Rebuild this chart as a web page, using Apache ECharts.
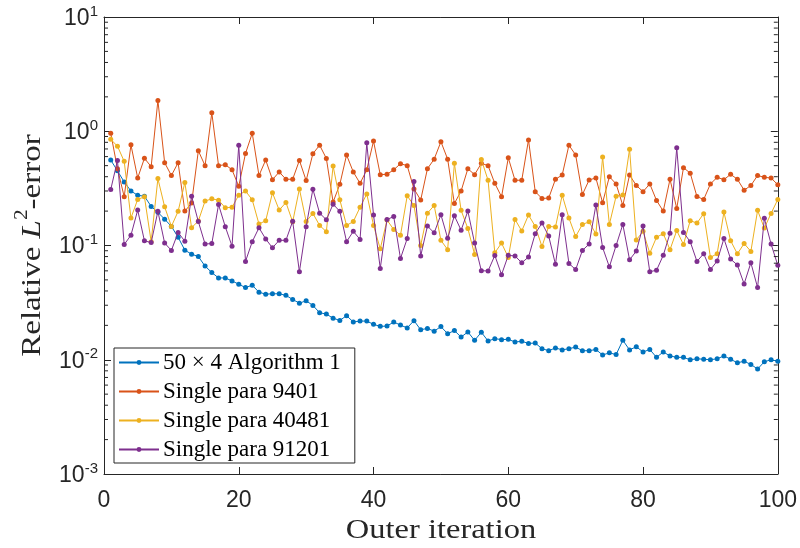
<!DOCTYPE html>
<html>
<head>
<meta charset="utf-8">
<script src="https://cdn.jsdelivr.net/npm/echarts@6/dist/echarts.min.js"></script>
<style>html,body{margin:0;padding:0;background:#fff}#c{width:800px;height:548px}</style>
</head>
<body>
<div id="c"></div>
<script>
// ---- data ----
const seriesNames = ['50 \u00d7 4 Algorithm 1', 'Single para 9401', 'Single para 40481', 'Single para 91201'];
const algo1 = [0.56,0.45,0.36,0.30,0.275,0.27,0.22,0.195,0.17,0.147,0.118,0.091,0.084,0.080,0.066,0.058,0.052,0.052,0.049,0.0458,
0.0428,0.0449,0.039,0.0375,0.0378,0.0378,0.0366,0.0337,0.0313,0.0328,0.0299,0.0258,0.0251,0.0231,0.0221,0.0243,0.0214,0.0218,0.0218,0.0204,
0.0196,0.0197,0.0214,0.0201,0.019,0.022,0.0183,0.0188,0.0178,0.0195,0.0169,0.018,0.0158,0.0175,0.0148,0.0174,0.0146,0.0153,0.015,0.0151,
0.0143,0.0145,0.0139,0.014,0.0125,0.012,0.0127,0.0122,0.0125,0.0129,0.012,0.012,0.0123,0.011,0.0115,0.0111,0.0148,0.0122,0.013,0.0117,
0.0123,0.0105,0.0117,0.0108,0.0105,0.0105,0.0100,0.0102,0.0101,0.0100,0.0102,0.0108,0.0101,0.0094,0.0097,0.0091,0.0083,0.0096,0.0100,0.0097];
const para9401 = [0.96,0.47,0.267,0.76,0.39,0.58,0.49,1.86,0.53,0.41,0.53,0.20,0.235,0.675,0.50,1.45,0.50,0.51,0.46,0.33,
0.64,0.96,0.41,0.56,0.377,0.44,0.38,0.38,0.556,0.37,0.636,0.755,0.578,0.24,0.343,0.62,0.44,0.35,0.46,0.82,
0.417,0.42,0.46,0.52,0.50,0.313,0.25,0.47,0.57,0.81,0.57,0.233,0.30,0.47,0.417,0.524,0.50,0.35,0.267,0.585,
0.372,0.373,0.84,0.296,0.258,0.26,0.38,0.414,0.755,0.62,0.279,0.375,0.39,0.237,0.40,0.346,0.224,0.414,0.335,0.296,
0.346,0.248,0.20,0.38,0.211,0.48,0.43,0.268,0.253,0.346,0.395,0.377,0.42,0.38,0.305,0.335,0.41,0.395,0.39,0.34];
const para40481 = [0.85,0.74,0.545,0.174,0.253,0.267,0.108,0.385,0.218,0.147,0.199,0.356,0.143,0.164,0.245,0.256,0.249,0.214,0.216,0.276,
0.30,0.251,0.154,0.165,0.289,0.204,0.238,0.161,0.313,0.162,0.191,0.15,0.132,0.496,0.251,0.15,0.162,0.216,0.283,0.15,
0.0935,0.167,0.138,0.123,0.272,0.224,0.10,0.192,0.224,0.111,0.092,0.524,0.203,0.141,0.0836,0.567,0.372,0.0863,0.105,0.0787,
0.169,0.134,0.185,0.147,0.098,0.147,0.145,0.276,0.174,0.12,0.153,0.161,0.126,0.594,0.153,0.27,0.277,0.697,0.112,0.133,
0.0857,0.118,0.127,0.092,0.135,0.102,0.165,0.157,0.19,0.0787,0.0848,0.196,0.11,0.0845,0.104,0.0888,0.203,0.142,0.191,0.253];
const para91201 = [0.309,0.556,0.102,0.123,0.204,0.11,0.106,0.199,0.105,0.0906,0.13,0.109,0.27,0.162,0.103,0.104,0.228,0.146,0.0987,0.755,
0.0726,0.108,0.143,0.114,0.0955,0.111,0.111,0.163,0.059,0.146,0.311,0.192,0.168,0.23,0.199,0.108,0.133,0.113,0.792,0.185,
0.063,0.169,0.179,0.077,0.115,0.364,0.081,0.148,0.129,0.186,0.116,0.182,0.136,0.20,0.105,0.0602,0.0598,0.0818,0.0556,0.082,
0.081,0.0706,0.0793,0.127,0.157,0.121,0.0684,0.186,0.0696,0.0615,0.0906,0.103,0.226,0.096,0.065,0.10,0.153,0.075,0.0893,0.148,
0.059,0.0607,0.082,0.128,0.716,0.13,0.108,0.0726,0.0848,0.0615,0.0731,0.115,0.076,0.0675,0.0461,0.0706,0.0428,0.173,0.103,0.067];
const colors = ['#0072BD', '#D95319', '#EDB120', '#7E2F8E'];
const xTicks = [0, 20, 40, 60, 80, 100];
const yDecades = [-3, -2, -1, 0, 1];
const xTitle = 'Outer iteration';
const minorTickValues = [];
for (let k = -3; k < 1; k++) for (let m = 2; m <= 9; m++) minorTickValues.push(m * Math.pow(10, k));

const allData = [algo1, para9401, para40481, para91201];
const toPairs = arr => arr.map((v, i) => [i + 1, v]);

const axisColor = '#262626';
const serif = 'Liberation Serif';
const chart = echarts.init(document.getElementById('c'), null, {renderer: 'canvas'});

const lineSeries = allData.map((d, k) => ({
  name: seriesNames[k],
  type: 'line',
  xAxisIndex: 0, yAxisIndex: 0,
  data: toPairs(d),
  symbol: 'circle',
  symbolSize: 5,
  showSymbol: true,
  lineStyle: {width: 1, color: colors[k]},
  itemStyle: {color: colors[k]},
  emphasis: {disabled: true},
  animation: false,
  z: 3 + k
}));

const minorSeries = {
  type: 'custom',
  xAxisIndex: 0, yAxisIndex: 0,
  data: minorTickValues.map(v => [0, v]),
  silent: true,
  animation: false,
  clip: false,
  z: 10,
  renderItem: function (params, api) {
    const cs = params.coordSys;
    const y = api.coord([0, api.value(1)])[1];
    const L = 4;
    return {
      type: 'group',
      children: [
        {type: 'line', shape: {x1: cs.x, y1: y, x2: cs.x + L, y2: y}, style: {stroke: axisColor, lineWidth: 1}},
        {type: 'line', shape: {x1: cs.x + cs.width, y1: y, x2: cs.x + cs.width - L, y2: y}, style: {stroke: axisColor, lineWidth: 1}}
      ]
    };
  }
};

const gridLeft = 104, gridTop = 17, gridRight = 22, gridBottom = 74;

const option = {
  backgroundColor: '#fff',
  animation: false,
  grid: {left: gridLeft, right: gridRight, top: gridTop, bottom: gridBottom, containLabel: false},
  legend: {
    data: seriesNames,
    orient: 'vertical',
    left: 114, top: 348,
    backgroundColor: '#fff',
    borderColor: axisColor,
    borderWidth: 1,
    borderRadius: 0,
    padding: [3, 14, 2, 4],
    itemGap: 6,
    itemWidth: 40,
    itemHeight: 6,
    selectedMode: false,
    textStyle: {fontFamily: serif, fontSize: 23, color: '#000', lineHeight: 23, padding: [0, 0, 0, -1]}
  },
  graphic: [{
    type: 'text',
    x: gridLeft + (800 - gridLeft - gridRight) / 2,
    y: 531,
    scaleX: 1.16,
    style: {text: xTitle, fontFamily: serif, fontSize: 28, fill: axisColor, align: 'center', verticalAlign: 'middle'}
  }, {
    type: 'text',
    x: 30,
    y: gridTop + (548 - gridTop - gridBottom) / 2,
    rotation: Math.PI / 2,
    scaleX: 1.18,
    style: {
      text: '{t|Relative }{i|L}{s|2}{t|-error}',
      align: 'center', verticalAlign: 'middle',
      rich: {
        t: {fontFamily: serif, fontSize: 28, fill: axisColor, lineHeight: 34, verticalAlign: 'bottom'},
        i: {fontFamily: serif, fontStyle: 'italic', fontSize: 28, fill: axisColor, lineHeight: 34, verticalAlign: 'bottom'},
        s: {fontFamily: serif, fontSize: 18, fill: axisColor, lineHeight: 34, verticalAlign: 'top'}
      }
    }
  }],
  xAxis: [{
    type: 'value', min: 0, max: 100, interval: 20,
    position: 'bottom',
    axisLine: {show: true, onZero: false, lineStyle: {color: axisColor, width: 1}},
    axisTick: {show: true, inside: true, length: 7, lineStyle: {color: axisColor}},
    splitLine: {show: false},
    axisLabel: {fontFamily: 'Liberation Sans', fontSize: 23, color: axisColor, margin: 15}
  }, {
    type: 'value', min: 0, max: 100, interval: 20,
    position: 'top',
    axisLine: {show: true, onZero: false, lineStyle: {color: axisColor, width: 1}},
    axisTick: {show: true, inside: true, length: 7, lineStyle: {color: axisColor}},
    splitLine: {show: false},
    axisLabel: {show: false}
  }],
  yAxis: [{
    type: 'log', logBase: 10, min: 0.001, max: 10,
    position: 'left',
    axisLine: {show: true, onZero: false, lineStyle: {color: axisColor, width: 1}},
    axisTick: {show: true, inside: true, length: 7, lineStyle: {color: axisColor}},
    splitLine: {show: false},
    axisLabel: {
      margin: 6,
      formatter: function (v) {
        const e = Math.round(Math.log10(v));
        return '{b|10}{s|' + e + '}';
      },
      rich: {
        b: {fontFamily: 'Liberation Sans', fontSize: 23, color: axisColor, lineHeight: 26, verticalAlign: 'bottom'},
        s: {fontFamily: 'Liberation Sans', fontSize: 15, color: axisColor, lineHeight: 26, verticalAlign: 'top'}
      }
    }
  }, {
    type: 'log', logBase: 10, min: 0.001, max: 10,
    position: 'right',
    axisLine: {show: true, onZero: false, lineStyle: {color: axisColor, width: 1}},
    axisTick: {show: true, inside: true, length: 7, lineStyle: {color: axisColor}},
    splitLine: {show: false},
    axisLabel: {show: false}
  }],
  series: lineSeries.concat([minorSeries])
};
chart.setOption(option);
</script>
</body>
</html>
